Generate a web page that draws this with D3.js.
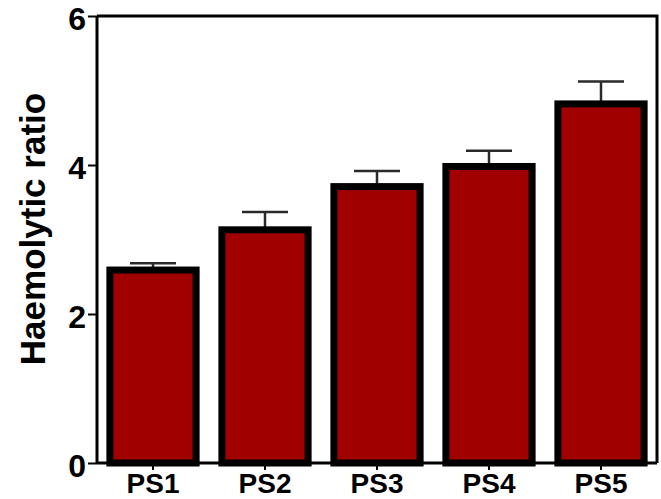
<!DOCTYPE html>
<html>
<head>
<meta charset="utf-8">
<script src="https://cdn.jsdelivr.net/npm/d3@7"></script>
<style>
  html, body { margin: 0; padding: 0; background: #fff; }
  svg { display: block; }
</style>
</head>
<body>
<svg id="chart"></svg>
<script>
// Chart data
const categories = ["PS1", "PS2", "PS3", "PS4", "PS5"];
const values = [2.59, 3.13, 3.71, 3.98, 4.82];
const errors = [0.09, 0.24, 0.21, 0.21, 0.30];
const yTicks = [0, 2, 4, 6];

const width = 661;
const height = 499;
const plotLeft = 97, plotRight = 657, plotTop = 16, plotBottom = 463;

const svg = d3.select("#chart")
  .attr("width", width)
  .attr("height", height);

const x = d3.scaleBand()
  .domain(categories)
  .range([plotLeft, plotRight])
  .paddingInner(0.23)
  .paddingOuter(0.115);

const y = d3.scaleLinear()
  .domain([0, 6])
  .range([plotBottom, plotTop]);

const rows = categories.map((c, i) => ({ name: c, value: values[i], err: errors[i] }));

// error bars (upper half only, drawn under the bars)
const capW = 46;
const eb = svg.append("g").attr("class", "errorbars");
eb.selectAll("line.stem")
  .data(rows)
  .enter()
  .append("line")
  .attr("x1", d => x(d.name) + x.bandwidth() / 2)
  .attr("x2", d => x(d.name) + x.bandwidth() / 2)
  .attr("y1", d => y(d.value))
  .attr("y2", d => y(d.value + d.err))
  .attr("stroke", "#2a2a2a")
  .attr("stroke-width", 2.5);
eb.selectAll("line.cap")
  .data(rows)
  .enter()
  .append("line")
  .attr("x1", d => x(d.name) + x.bandwidth() / 2 - capW / 2)
  .attr("x2", d => x(d.name) + x.bandwidth() / 2 + capW / 2)
  .attr("y1", d => y(d.value + d.err))
  .attr("y2", d => y(d.value + d.err))
  .attr("stroke", "#2a2a2a")
  .attr("stroke-width", 2.5);

// bars
svg.append("g")
  .selectAll("rect")
  .data(rows)
  .enter()
  .append("rect")
  .attr("x", d => x(d.name))
  .attr("y", d => y(d.value))
  .attr("width", x.bandwidth())
  .attr("height", d => y(0) - y(d.value))
  .attr("fill", "#a00000")
  .attr("stroke", "#000")
  .attr("stroke-width", 7);

// frame: top and right lines
svg.append("path")
  .attr("d", `M${plotLeft},${plotTop} H${plotRight} V${plotBottom}`)
  .attr("fill", "none")
  .attr("stroke", "#000")
  .attr("stroke-width", 3);

// y axis
const yAxis = svg.append("g")
  .attr("transform", `translate(${plotLeft},0)`)
  .call(d3.axisLeft(y).tickValues(yTicks).tickFormat(d3.format("d")).tickSize(9).tickPadding(2));
yAxis.select(".domain").attr("stroke-width", 3).attr("d", `M0,${plotTop}V${plotBottom}`);
yAxis.selectAll(".tick line").attr("stroke-width", 2);
yAxis.selectAll(".tick text")
  .attr("font-family", "Liberation Sans, Arial, sans-serif")
  .attr("font-weight", "bold")
  .attr("font-size", 32)
  .attr("fill", "#000")
  .attr("dy", "0.42em");

// x axis
const xAxis = svg.append("g")
  .attr("transform", `translate(0,${plotBottom})`)
  .call(d3.axisBottom(x).tickSize(7).tickPadding(3));
xAxis.select(".domain").attr("stroke-width", 3).attr("d", `M${plotLeft},0H${plotRight}`);
xAxis.selectAll(".tick line").attr("stroke-width", 2);
xAxis.selectAll(".tick text")
  .attr("font-family", "Liberation Sans, Arial, sans-serif")
  .attr("font-weight", "bold")
  .attr("font-size", 28)
  .attr("fill", "#000")
  .attr("dy", "0.72em");

// y axis title
svg.append("text")
  .attr("transform", "translate(45,229) rotate(-90)")
  .attr("text-anchor", "middle")
  .attr("font-family", "Liberation Sans, Arial, sans-serif")
  .attr("font-weight", "bold")
  .attr("font-size", 35)
  .attr("fill", "#000")
  .text("Haemolytic ratio");
</script>
</body>
</html>
